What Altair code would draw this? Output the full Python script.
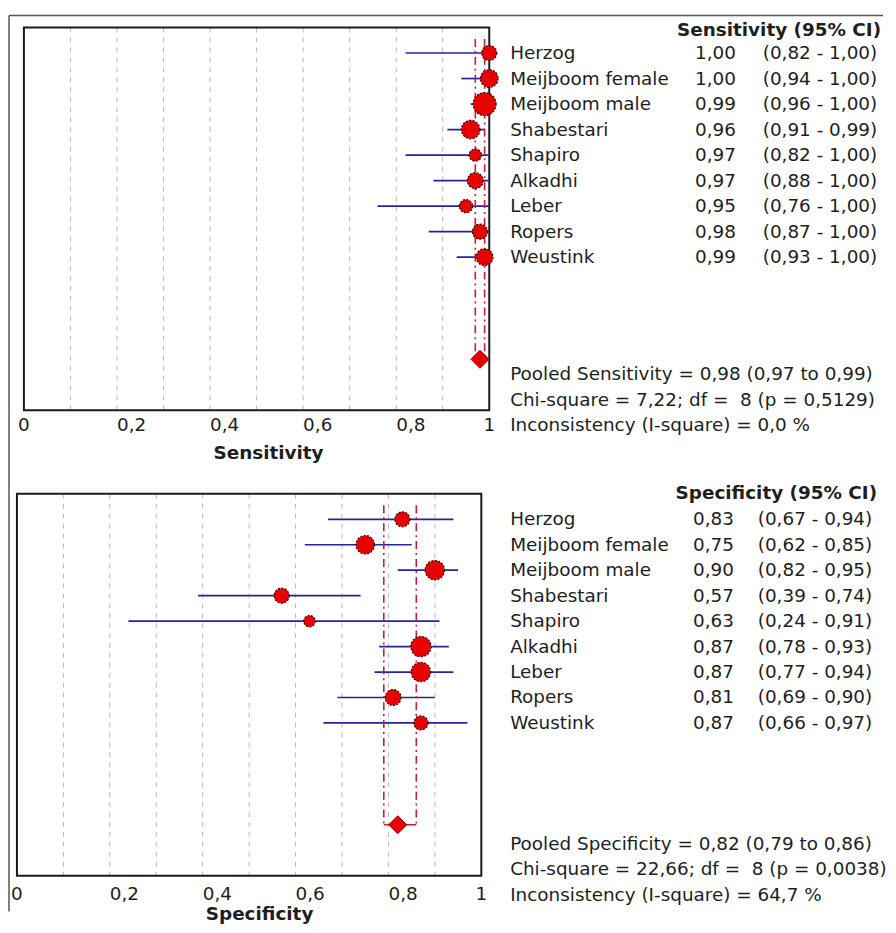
import altair as alt
import pandas as pd

# ---------------- data ----------------
studies = ["Herzog", "Meijboom female", "Meijboom male", "Shabestari", "Shapiro",
           "Alkadhi", "Leber", "Ropers", "Weustink"]

sens_est = [1.00, 1.00, 0.99, 0.96, 0.97, 0.97, 0.95, 0.98, 0.99]
sens_lo = [0.82, 0.94, 0.96, 0.91, 0.82, 0.88, 0.76, 0.87, 0.93]
sens_hi = [1.00, 1.00, 1.00, 0.99, 1.00, 1.00, 1.00, 1.00, 1.00]
sens_weight = [17, 20, 26, 21, 14, 18, 15, 17, 19]          # marker diameter (study weight)
sens_pooled = [0.98, 0.97, 0.99]                             # estimate, lower, upper
sens_stats = ["Pooled Sensitivity = 0,98 (0,97 to 0,99)",
              "Chi-square = 7,22; df =\u00a0 8 (p = 0,5129)",
              "Inconsistency (I-square) = 0,0 %"]

spec_est = [0.83, 0.75, 0.90, 0.57, 0.63, 0.87, 0.87, 0.81, 0.87]
spec_lo = [0.67, 0.62, 0.82, 0.39, 0.24, 0.78, 0.77, 0.69, 0.66]
spec_hi = [0.94, 0.85, 0.95, 0.74, 0.91, 0.93, 0.94, 0.90, 0.97]
spec_weight = [17, 21, 22, 17, 13, 23, 22, 18, 16]
spec_pooled = [0.82, 0.79, 0.86]
spec_stats = ["Pooled Specificity = 0,82 (0,79 to 0,86)",
              "Chi-square = 22,66; df =\u00a0 8 (p = 0,0038)",
              "Inconsistency (I-square) = 64,7 %"]

grid_values = [0.1, 0.2, 0.3, 0.4, 0.5, 0.6, 0.7, 0.8, 0.9]
tick_values = [0, 0.2, 0.4, 0.6, 0.8, 1]

# ---------------- styling ----------------
FONT = "DejaVu Sans"
FS = 18.5
TXT = "#1e1e1e"
BLUE = "#24249c"
RED = "#e80000"
DASHRED = "#cc1a3a"
POOLED_ROW = 12
POOL_LINE_TOP = -0.55
Y_DOMAIN = [-1, 14]


def comma(v):
    return f"{v:.2f}".replace(".", ",")


def panel(est, lo, hi, weight, pooled, stats, header, axis_title, *, xr, yr, height,
          header_x, header_y, stats_y, est_x, ci_x, label_y, title_x, title_y, outer):
    df = pd.DataFrame({"row": list(range(len(studies))), "name": studies,
                       "est": est, "lo": lo, "hi": hi, "d": weight})
    df["est_txt"] = [comma(v) for v in est]
    df["ci_txt"] = [f"({comma(a)} - {comma(b)})" for a, b in zip(lo, hi)]
    pdf = pd.DataFrame({"row": [POOLED_ROW], "est": [pooled[0]],
                        "lo": [pooled[1]], "hi": [pooled[2]]})
    bdf = pd.DataFrame({"x": [pooled[1], pooled[2]]})
    gdf = pd.DataFrame({"g": grid_values})
    tdf = pd.DataFrame({"t": tick_values})
    one = alt.Data(values=[{}])

    xs = alt.Scale(domain=[0, 1], range=xr, nice=False, zero=False)
    ys = alt.Scale(domain=Y_DOMAIN, range=yr, nice=False, zero=False)

    grid = alt.Chart(gdf).mark_rule(color="#b8b8b8", strokeDash=[5, 5], strokeWidth=1).encode(
        x=alt.X("g:Q", scale=xs, axis=None),
        y=alt.YDatum(Y_DOMAIN[0], scale=ys, axis=None),
        y2=alt.Y2Datum(Y_DOMAIN[1]),
    )
    frame = alt.Chart(one).mark_rect(fill="white", fillOpacity=0, stroke="#1a1a1a",
                                     strokeWidth=2).encode(
        x=alt.XDatum(0, axis=None), x2=alt.X2Datum(1),
        y=alt.YDatum(Y_DOMAIN[0], axis=None), y2=alt.Y2Datum(Y_DOMAIN[1]),
    )
    ci = alt.Chart(df).mark_rule(color=BLUE, strokeWidth=1.7).encode(
        x=alt.X("lo:Q", scale=xs, axis=None), x2="hi:Q",
        y=alt.Y("row:Q", scale=ys, axis=None),
    )
    pool_v = alt.Chart(bdf).mark_rule(color=DASHRED, strokeDash=[8, 4, 2, 4],
                                      strokeWidth=1.6).encode(
        x=alt.X("x:Q", axis=None),
        y=alt.YDatum(POOL_LINE_TOP, axis=None), y2=alt.Y2Datum(POOLED_ROW),
    )
    pool_h = alt.Chart(pdf).mark_rule(color=DASHRED, strokeWidth=1.6).encode(
        x=alt.X("lo:Q", axis=None), x2="hi:Q", y=alt.Y("row:Q", axis=None),
    )
    pts = alt.Chart(df).transform_calculate(area="PI*datum.d*datum.d/4").mark_circle(
        fill=RED, stroke="#2a0008", strokeWidth=1.2, strokeDash=[2, 1.5],
        opacity=1, fillOpacity=1,
    ).encode(
        x=alt.X("est:Q", axis=None), y=alt.Y("row:Q", axis=None),
        size=alt.Size("area:Q", scale=None, legend=None),
    )
    diamond = alt.Chart(pdf).mark_point(shape="diamond", filled=True, fill=RED,
                                        stroke="#a00000", strokeWidth=1, size=330,
                                        opacity=1).encode(
        x=alt.X("est:Q", axis=None), y=alt.Y("row:Q", axis=None),
    )

    def txt(**kw):
        base = dict(baseline="middle", font=FONT, fontSize=FS, color=TXT)
        base.update(kw)
        return base

    names = alt.Chart(df).mark_text(**txt(align="left")).encode(
        x=alt.value(505), y=alt.Y("row:Q", axis=None), text="name:N")
    ests = alt.Chart(df).mark_text(**txt(align="right")).encode(
        x=alt.value(est_x), y=alt.Y("row:Q", axis=None), text="est_txt:N")
    cis = alt.Chart(df).mark_text(**txt(align="left")).encode(
        x=alt.value(ci_x), y=alt.Y("row:Q", axis=None), text="ci_txt:N")
    head = alt.Chart(one).mark_text(**txt(align="right", fontWeight="bold", text=header)).encode(
        x=alt.value(header_x), y=alt.value(header_y))
    stat = alt.Chart(one).mark_text(**txt(align="left", lineBreak="\n", lineHeight=25.5,
                                          text="\n".join(stats))).encode(
        x=alt.value(505), y=alt.value(stats_y))

    # x-axis tick labels (decimal comma) and axis title
    lbl_expr = "replace(format(datum.t, '.1~f'), '.', ',')"
    ticks_mid = alt.Chart(tdf).transform_filter("datum.t > 0 && datum.t < 1").transform_calculate(
        lbl=lbl_expr).mark_text(**txt(align="left")).encode(
        x=alt.X("t:Q", axis=None), y=alt.value(label_y), text="lbl:N")
    ticks_end = alt.Chart(tdf).transform_filter("datum.t == 0 || datum.t == 1").transform_calculate(
        lbl=lbl_expr).mark_text(**txt(align="center")).encode(
        x=alt.X("t:Q", axis=None), y=alt.value(label_y), text="lbl:N")
    atitle = alt.Chart(one).mark_text(**txt(align="center", fontWeight="bold",
                                            text=axis_title)).encode(
        x=alt.value(title_x), y=alt.value(title_y))

    layers = [grid, frame, ci, pool_v, pool_h, pts, diamond, names, ests, cis, head, stat,
              ticks_mid, ticks_end, atitle]
    for (xa, xb, ya, yb) in outer:
        if xa == xb:
            layers.append(alt.Chart(one).mark_rule(color="#555555", strokeWidth=1.5).encode(
                x=alt.value(xa), y=alt.value(ya), y2=alt.value(yb)))
        else:
            layers.append(alt.Chart(one).mark_rule(color="#555555", strokeWidth=1.5).encode(
                x=alt.value(xa), x2=alt.value(xb), y=alt.value(ya)))
    return alt.layer(*layers).properties(width=880, height=height)


top = panel(sens_est, sens_lo, sens_hi, sens_weight, sens_pooled, sens_stats,
            "Sensitivity (95% CI)", "Sensitivity",
            xr=[16, 484], yr=[17, 402], height=402,
            header_x=878, header_y=20, stats_y=366, est_x=732, ci_x=759,
            label_y=417, title_x=262, title_y=445,
            outer=[(1, 880, 5, 5), (1, 1, 5, 402)])

bottom = panel(spec_est, spec_lo, spec_hi, spec_weight, spec_pooled, spec_stats,
               "Specificity (95% CI)", "Specificity",
               xr=[9, 476], yr=[64, 448], height=448,
               header_x=874, header_y=63, stats_y=416, est_x=730, ci_x=754,
               label_y=466, title_x=253, title_y=487,
               outer=[(1, 1, -20, 484)])

chart = alt.vconcat(top, bottom, spacing=20, bounds="flush").properties(
    padding=0, background="white"
).configure_view(strokeWidth=0)

chart.save("out.html", embed_options={"renderer": "svg", "actions": False})
